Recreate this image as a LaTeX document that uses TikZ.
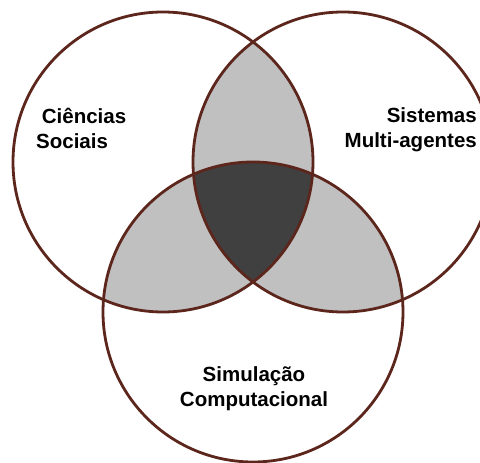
\documentclass[tikz,border=0pt]{standalone}
\usepackage{fontspec}
\setmainfont{Liberation Sans}
\definecolor{setline}{RGB}{92,38,28}
\definecolor{pairgray}{RGB}{192,192,192}
\definecolor{triplegray}{RGB}{64,64,64}
\tikzstyle{set} = [draw=setline, line width=2.8pt]
\tikzstyle{setlabel} = [
    font=\fontsize{20.5}{25}\selectfont\bfseries, inner sep=0pt
]

\begin{document}
\begin{tikzpicture}[x=1pt, y=1pt]
    \useasboundingbox (0,0) rectangle (480,463);
    \coordinate (social) at (163,301);
    \coordinate (agents) at (343,301);
    \coordinate (simul) at (253,151);

    % overlaps of two sets
    \begin{scope}
        \clip (social) circle (150pt);
        \fill [pairgray] (agents) circle (150pt);
        \fill [pairgray] (simul) circle (150pt);
    \end{scope}
    \begin{scope}
        \clip (agents) circle (150pt);
        \fill [pairgray] (simul) circle (150pt);
    \end{scope}
    % overlap of all three
    \begin{scope}
        \clip (social) circle (150pt);
        \clip (agents) circle (150pt);
        \fill [triplegray] (simul) circle (150pt);
    \end{scope}

    \draw [set] (social) circle (150pt);
    \draw [set] (agents) circle (150pt);
    \draw [set] (simul) circle (150pt);

    \node (socialtext) [setlabel, align=left, anchor=base west] at (36,314)
        {\hspace*{0.278em}Ciências\\Sociais};
    \node (agentstext) [setlabel, align=right, anchor=base east] at (477,315)
        {Sistemas\\Multi-agentes};
    \node (simultext) [setlabel, align=center, anchor=base] at (254,56)
        {Simulação\\Computacional};
\end{tikzpicture}
\end{document}
